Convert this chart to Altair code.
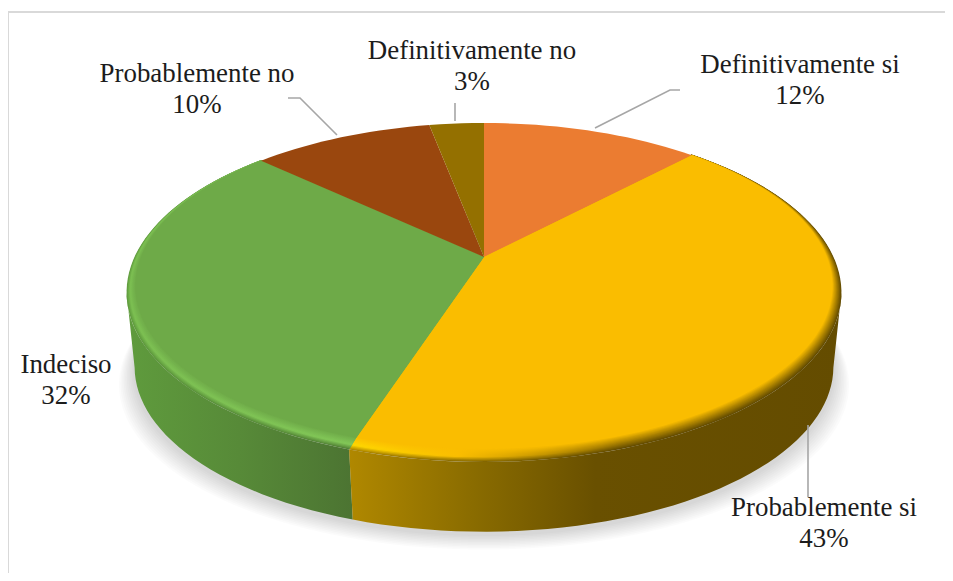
import math
import altair as alt
import pandas as pd

# ---- values ----
categories = ["Definitivamente si", "Probablemente si", "Indeciso", "Probablemente no", "Definitivamente no"]
shares = [12, 43, 32, 10, 3]
face_colors = ["#eb7c31", "#fabd00", "#6eaa48", "#9a470e", "#947000"]

# layout only
W, H = 937, 565
CX = 484
FACE = dict(Y=257, k=0.1779, A=343.0, B=157.8)
RIM = dict(Y=257, k=0.2095, A=349.5, B=162.0)
FLOOR = dict(Y=333, k=0.2047, A=342.0, B=158.0)
label_x = [800, 824, 66, 197, 472]
label_y = [65, 508, 365, 74, 51]
leaders = [
    [(595, 128), (670, 90), (680, 90)],
    [(808, 425), (808, 497)],
    [(288, 98), (300, 98), (337, 135)],
    [(455, 103), (455, 121)],
]

xs = alt.X("x:Q", scale=alt.Scale(domain=[8, 8 + W]), axis=None)
ys = alt.Y("y:Q", scale=alt.Scale(domain=[8, 8 + H], reverse=True), axis=None)


def pt(deg, p, sx=1.0, dy=0.0):
    t = math.radians(deg)
    u, v = math.sin(t), math.cos(t)
    w = 1 + p["k"] * v
    return CX + sx * p["A"] * u / w, p["Y"] + dy - p["B"] * v / w


def arc(a, b, p, **kw):
    n = max(2, int(abs(b - a) / 2))
    return [pt(a + (b - a) * i / n, p, **kw) for i in range(n + 1)]


def poly(points, fill, opacity=1.0):
    pts = list(points) + [points[0]]
    df = pd.DataFrame({"x": [q[0] for q in pts], "y": [q[1] for q in pts], "i": range(len(pts))})
    return alt.Chart(df).mark_line(fill=fill, stroke=None, strokeWidth=0, fillOpacity=opacity, clip=False).encode(
        x=xs, y=ys, order="i:Q"
    )


def grad(stops):
    return alt.LinearGradient(
        gradient="linear", x1=0, x2=1, y1=0, y2=0,
        stops=[alt.GradientStop(offset=o, color=c) for o, c in stops],
    )


def mix(c1, c2, t):
    a = [int(c1[i:i + 2], 16) for i in (1, 3, 5)]
    b = [int(c2[i:i + 2], 16) for i in (1, 3, 5)]
    return "#" + "".join(f"{round(x + (y - x) * t):02x}" for x, y in zip(a, b))


def lerp(t):
    return {key: RIM[key] + (FACE[key] - RIM[key]) * t for key in RIM}


cum = [0]
for s in shares:
    cum.append(cum[-1] + s * 3.6)

layers = []

# frame
layers.append(alt.Chart(pd.DataFrame({"x": [8, 8], "y": [12, 8 + H], "i": [0, 1]})).mark_line(color="#d9d9d9", strokeWidth=2).encode(x=xs, y=ys, order="i:Q"))
layers.append(alt.Chart(pd.DataFrame({"x": [8, 8 + W], "y": [12, 12], "i": [0, 1]})).mark_line(color="#d9d9d9", strokeWidth=2).encode(x=xs, y=ys, order="i:Q"))

# soft shadow below the pie
for g in range(10, 0, -1):
    grow = 1 + 0.0045 * g
    layers.append(poly(arc(0, 360, FLOOR, sx=grow, dy=3 + 1.5 * g), "#000000", 0.016))

# side walls
theta_tan = math.degrees(math.acos(-RIM["k"]))
y_a, y_b = cum[1], cum[2]
g_a, g_b = cum[2], cum[3]
wall_yellow = grad([(0, "#b08800"), (0.25, "#8a6c00"), (0.5, "#695000"), (1, "#644c00")])
wall_green = grad([(0, "#5f9b3d"), (0.5, "#578a38"), (1, "#4c7432")])
layers.append(poly(arc(g_a, 360 - theta_tan, RIM) + arc(360 - theta_tan, g_a, FLOOR), wall_green))
layers.append(poly(arc(y_b, theta_tan, RIM) + arc(theta_tan, y_b, FLOOR), wall_yellow))

# bevel between wall and face
STEPS = 12
for s in range(STEPS):
    t = s / STEPS
    p = lerp(t)
    hi = min(1, t / 0.35)
    left_y = mix("#b08800", "#ffd800", hi) if t < 0.35 else mix("#ffd800", face_colors[1], (t - 0.35) / 0.65)
    mid_y = mix("#8a6c00", "#fcc000", hi) if t < 0.35 else face_colors[1]
    right_y = mix("#644c00", face_colors[1], t)
    layers.append(poly([(CX, 257)] + arc(y_a, y_b, p), grad([(0, left_y), (0.22, mid_y), (0.55, right_y), (1, right_y)])))
    left_g = mix("#5f9b3d", "#7cc052", hi) if t < 0.35 else mix("#7cc052", face_colors[2], (t - 0.35) / 0.65)
    right_g = mix("#4c7432", "#86cc5b", hi) if t < 0.35 else mix("#86cc5b", face_colors[2], (t - 0.35) / 0.65)
    layers.append(poly([(CX, 257)] + arc(g_a, g_b, p), grad([(0, left_g), (1, right_g)])))

# top faces, one per share
for a, b, c in zip(cum[:-1], cum[1:], face_colors):
    layers.append(poly([(CX, 257)] + arc(a, b, FACE), c))

# leader lines
for j, seg in enumerate(leaders):
    df = pd.DataFrame({"x": [q[0] for q in seg], "y": [q[1] for q in seg], "i": range(len(seg))})
    layers.append(alt.Chart(df).mark_line(color="#a6a6a6", strokeWidth=1.6).encode(x=xs, y=ys, order="i:Q"))

# labels
rows = []
for name, s, lx, ly in zip(categories, shares, label_x, label_y):
    rows.append({"x": lx, "y": ly, "t": name})
    rows.append({"x": lx, "y": ly + 31, "t": f"{s}%"})
layers.append(
    alt.Chart(pd.DataFrame(rows))
    .mark_text(font="Liberation Serif", fontSize=26.9, color="#1c1c1c", align="center", baseline="middle")
    .encode(x=xs, y=ys, text="t:N")
)

chart = (
    alt.layer(*layers)
    .properties(width=W, height=H, padding=0, background="white", autosize=alt.AutoSizeParams(type="none"))
    .configure_view(stroke=None)
)
chart.save("out.html", embed_options={"renderer": "svg", "actions": False})
